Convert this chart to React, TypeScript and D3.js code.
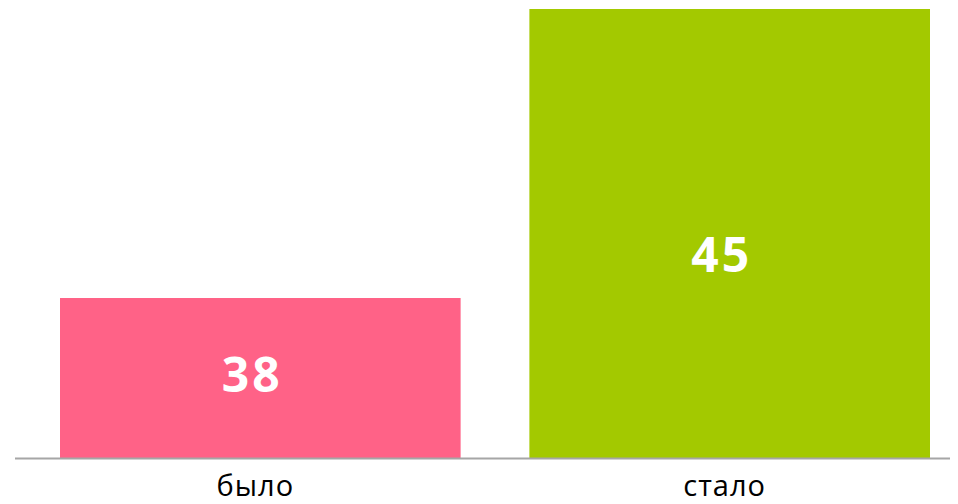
import React from "react";
import * as d3 from "d3";

const categories = ["было", "стало"];
const values = [38, 45];
const colors = ["#FF6287", "#A3C900"];

const W = 958;
const H = 504;

export default function App() {
  const baseY = 458;
  const x = d3.scaleBand<string>().domain(categories).range([60, 930]).paddingInner(0.1465).paddingOuter(0);
  const y = d3.scaleLinear().domain([34.125, 45]).range([baseY, 9]);

  return (
    <svg width={W} height={H} style={{ position: "absolute", left: 0, top: 0, display: "block" }}>
      <rect x={0} y={0} width={W} height={H} fill="#ffffff" />
      {categories.map((c, i) => {
        const bx = x(c)!;
        const bw = x.bandwidth();
        const top = y(values[i]);
        const h = baseY - top;
        return (
          <g key={c}>
            <rect x={bx} y={top} width={bw} height={h} fill={colors[i]} />
            <text
              x={bx + bw / 2 - 8}
              y={baseY - 0.415 * h}
              textAnchor="middle"
              fontFamily="'Open Sans', sans-serif"
              fontWeight={700}
              fontSize={48}
              letterSpacing={3}
              fill="#ffffff"
            >
              {values[i]}
            </text>
            <text
              x={bx + bw / 2 - 5}
              y={496}
              textAnchor="middle"
              fontFamily="'Open Sans', sans-serif"
              fontSize={29}
              letterSpacing={1}
              fill="#000000"
            >
              {c}
            </text>
          </g>
        );
      })}
      <line x1={15} x2={950} y1={458.5} y2={458.5} stroke="#A6A6A6" strokeWidth={2} />
    </svg>
  );
}
